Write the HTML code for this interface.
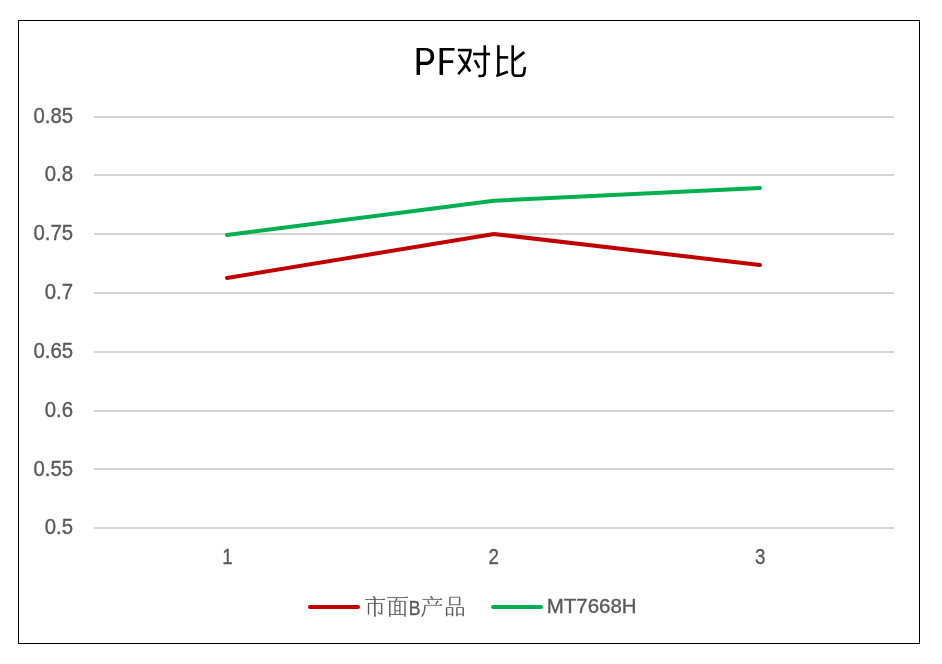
<!DOCTYPE html>
<html lang="zh">
<head>
<meta charset="utf-8">
<title>PF chart</title>
<style>
  html, body { margin: 0; padding: 0; background: #ffffff; }
  body { width: 942px; height: 664px; overflow: hidden; font-family: "Liberation Sans", sans-serif; }
  svg { display: block; }
  text { filter: grayscale(1); }
    .ax { font-family: "Liberation Sans", sans-serif; font-size: 21px; fill: #595959; stroke: #595959; stroke-width: 0.35px; }
  .lg { font-family: "Liberation Sans", sans-serif; font-size: 20.5px; fill: #595959; stroke: #595959; stroke-width: 0.35px; }
</style>
</head>
<body>
<svg width="942" height="664" viewBox="0 0 942 664">
  <rect x="0" y="0" width="942" height="664" fill="#ffffff"/>

  <!-- chart frame -->
  <rect x="18.5" y="20.5" width="901" height="623" fill="#ffffff" stroke="#000000" stroke-width="1"/>

  <!-- gridlines -->
  <g fill="#d4d4d4">
    <rect x="94" y="116" width="800" height="2"/>
    <rect x="94" y="174" width="800" height="2"/>
    <rect x="94" y="233" width="800" height="2"/>
    <rect x="94" y="292" width="800" height="2"/>
    <rect x="94" y="351" width="800" height="2"/>
    <rect x="94" y="410" width="800" height="2"/>
    <rect x="94" y="468" width="800" height="2"/>
    <rect x="94" y="527" width="800" height="2"/>
  </g>

  <!-- y axis labels -->
  <g class="ax" text-anchor="end">
    <text transform="translate(73.1,122.5) scale(0.97,1.045)">0.85</text>
    <text transform="translate(73.1,180.5) scale(0.97,1.045)">0.8</text>
    <text transform="translate(73.1,239.5) scale(0.97,1.045)">0.75</text>
    <text transform="translate(73.1,298.5) scale(0.97,1.045)">0.7</text>
    <text transform="translate(73.1,357.8) scale(0.97,1.045)">0.65</text>
    <text transform="translate(73.1,417.0) scale(0.97,1.045)">0.6</text>
    <text transform="translate(73.1,475.5) scale(0.97,1.045)">0.55</text>
    <text transform="translate(73.1,533.5) scale(0.97,1.045)">0.5</text>
  </g>

  <!-- x axis labels -->
  <g class="ax" text-anchor="middle">
    <text transform="translate(227.4,563.8) scale(0.89,1.045)">1</text>
    <text transform="translate(493.7,563.8) scale(0.89,1.045)">2</text>
    <text transform="translate(760.2,563.8) scale(0.89,1.045)">3</text>
  </g>

  <!-- series -->
  <g fill="none" stroke-width="4" stroke-linecap="round" stroke-linejoin="round">
    <polyline points="227,278 494,234 760,265" stroke="#c00000"/>
    <polyline points="227,235 494,200.7 760,188" stroke="#00b050"/>
  </g>

  <!-- legend -->
  <g fill="none" stroke-width="4" stroke-linecap="round">
    <line x1="310" y1="607" x2="358" y2="607" stroke="#c00000"/>
    <line x1="493" y1="607" x2="541" y2="607" stroke="#00b050"/>
  </g>
  <text class="lg" transform="translate(546.8,612.7) scale(0.998,0.99)">MT7668H</text>
  <text class="lg" transform="translate(408.8,615) scale(0.86,1.03)">B</text>


  <!-- legend CJK glyphs (hand drawn, Song style) -->
  <g id="lgcjk" fill="none" stroke="#595959" stroke-linecap="butt">
    <!-- shi -->
    <path d="M373.4 596.2 L375.2 598.6" stroke-width="1.5"/>
    <path d="M365.2 599.5 H385" stroke-width="0.85"/>
    <path d="M382.5 599.5 L384 598.2 L385.2 599.5 Z" fill="#595959" stroke="none"/>
    <path d="M368.5 603 V614.5" stroke-width="1.3"/>
    <path d="M368.5 603.4 H382.3" stroke-width="0.85"/>
    <path d="M381.7 603.4 V613.2 C381.7 614.4 380.5 614.2 377.8 612.5" stroke-width="1.3"/>
    <path d="M374.85 598.3 V616.75" stroke-width="1.6"/>
    <!-- mian -->
    <path d="M387.2 597.5 H407.9" stroke-width="0.85"/>
    <path d="M405.3 597.5 L406.8 596.2 L408 597.5 Z" fill="#595959" stroke="none"/>
    <path d="M397.1 597.5 L395.6 601.1" stroke-width="1.3"/>
    <path d="M389.8 600.8 V616.75 M405 601.3 V616.75" stroke-width="1.4"/>
    <path d="M389.8 601.3 H405.6 M389.8 614.5 H405" stroke-width="0.85"/>
    <path d="M395 601.3 V614.5 M399.9 601.3 V614.5" stroke-width="1.2"/>
    <path d="M395 605.5 H399.9 M395 610.7 H399.9" stroke-width="0.85"/>
    <!-- chan -->
    <path d="M430.4 596.3 L432.8 598.7" stroke-width="1.5"/>
    <path d="M422.4 599.4 H442.1" stroke-width="0.85"/>
    <path d="M439.5 599.4 L441 598.1 L442.3 599.4 Z" fill="#595959" stroke="none"/>
    <path d="M427.8 600.5 L429.3 604.1" stroke-width="1.4"/>
    <path d="M437.9 600.8 L435.8 604.4" stroke-width="1.4"/>
    <path d="M424.9 605.3 H442.1" stroke-width="0.85"/>
    <path d="M439.5 605.3 L441 604 L442.3 605.3 Z" fill="#595959" stroke="none"/>
    <path d="M424.9 605.3 C424.9 610 424 614 421.7 616.6" stroke-width="1.4"/>
    <!-- pin -->
    <path d="M449.85 597.2 V605.5 M459.6 597.2 V605.5" stroke-width="1.4"/>
    <path d="M449.85 597.2 H459.6 M449.85 604.66 H459.6" stroke-width="0.85"/>
    <path d="M446.6 607.5 V616.35 M452.5 607.5 V616.35 M456.9 607.5 V616.35 M463.2 607.5 V616.35" stroke-width="1.4"/>
    <path d="M446.6 607.5 H452.5 M446.6 614.2 H452.5 M456.9 607.5 H463.2 M456.9 614.2 H463.2" stroke-width="0.85"/>
  </g>

  <!-- title: P F -->
  <g id="title" fill="none" stroke="#000000" stroke-linecap="butt" stroke-linejoin="miter">
    <!-- P -->
    <path d="M418.3 48 V74.9" stroke-width="3.5"/>
    <path d="M419.5 48 H425.6 C431.6 48 434.2 51.6 434.2 56.4 C434.2 61.6 431 65 425.2 65 H419.5 V61.8 H424.9 C428.8 61.8 430.6 59.7 430.6 56.4 C430.6 52.8 428.8 50.5 424.9 50.5 H419.5 Z" fill="#000000" stroke="none"/>
    <!-- F -->
    <path d="M441.3 48 V74.9" stroke-width="3.5"/>
    <path d="M441.3 49.3 H454.6" stroke-width="2.6"/>
    <path d="M441.3 61.65 H453.2" stroke-width="2.8"/>
    <!-- dui -->
    <g stroke-width="2.6">
      <path d="M457.8 50.1 H471.6"/>
      <path d="M470.6 50.3 C469.8 57.5 466 66.5 458.2 74.1" stroke-width="2.7"/>
      <path d="M459.2 54.7 L470.2 71.5" stroke-width="2.8"/>
      <path d="M473.1 54.05 H490.1"/>
      <path d="M484.8 45.2 V72.6 C484.8 75.3 483.8 76 481.5 76 H478.4"/>
      <path d="M474.9 60.2 L479.2 67.8"/>
    </g>
    <!-- bi -->
    <g stroke-width="2.6">
      <path d="M498.4 45.2 V74.8"/>
      <path d="M498.4 57.4 H508.2"/>
      <path d="M496.3 75.9 L507.9 71.8"/>
      <path d="M512.7 45.2 V72.2 C512.7 74.8 513.6 75.7 516 75.7 H520.8 C523.2 75.7 524 74.6 524.3 72 L524.9 66.8"/>
      <path d="M524.3 52.1 L514.1 60.2" stroke-width="2.9"/>
    </g>
  </g>
</svg>
</body>
</html>
